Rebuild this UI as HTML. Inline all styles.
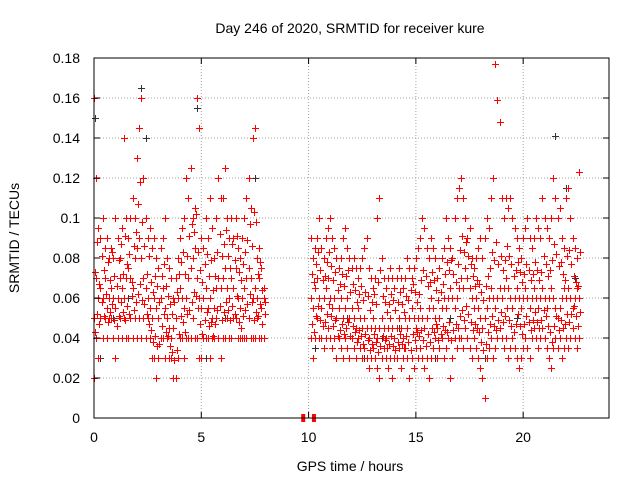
<!DOCTYPE html>
<html><head><meta charset="utf-8"><style>
body{margin:0;background:#fff}
svg text{font-family:"Liberation Sans",sans-serif;font-size:14px;fill:#000}
</style></head><body>
<svg id="chart" width="640" height="480" xmlns="http://www.w3.org/2000/svg">
<rect width="640" height="480" fill="#fff"/>
<text x="350" y="33" text-anchor="middle">Day 246 of 2020, SRMTID for receiver kure</text>
<text x="0" y="0" transform="translate(19,238) rotate(-90)" text-anchor="middle">SRMTID / TECUs</text>
<text x="350" y="471" text-anchor="middle">GPS time / hours</text>
<g id="grid"></g><g id="marks"></g><g id="axes"></g>
</svg>
<script>
const xTicks=[0,5,10,15,20];
const yTicks=[0,0.02,0.04,0.06,0.08,0.1,0.12,0.14,0.16,0.18];
const yTickLabels=["0","0.02","0.04","0.06","0.08","0.1","0.12","0.14","0.16","0.18"];
const segAStart=0.0, segBStart=10.1, sampleStep=0.1, extraOffset=0.05;
const segALow=[.02,.04,.03,.05,.04,.05,.04,.05,.05,.04,.03,.04,.05,.04,.05,.04,.04,.05,.04,.05,.04,.05,.04,.05,.04,.05,.04,.03,.03,.02,.03,.04,.04,.03,.04,.03,.03,.02,.02,.03,.04,.04,.03,.04,.04,.04,.05,.04,.04,.03,.03,.04,.04,.04,.03,.04,.04,.05,.04,.03,.04,.04,.05,.04,.04,.05,.05,.04,.04,.04,.04,.04,.05,.04,.04,.04,.05,.04,.04,.04];
const segAMid=[.05,.07,.06,.065,.06,.07,.055,.06,.065,.06,.055,.06,.07,.065,.06,.07,.075,.07,.065,.08,.085,.09,.08,.07,.065,.06,.055,.05,.06,.055,.05,.06,.065,.055,.05,.045,.04,.045,.05,.06,.065,.06,.055,.06,.07,.075,.08,.085,.07,.06,.055,.06,.065,.055,.06,.05,.055,.065,.07,.065,.07,.075,.065,.06,.07,.065,.075,.06,.055,.06,.065,.07,.075,.07,.06,.065,.06,.07,.055,.06];
const segAHigh=[.16,.12,.095,.09,.1,.085,.09,.08,.085,.08,.1,.09,.08,.095,.14,.1,.09,.1,.11,.1,.13,.145,.16,.12,.1,.09,.095,.085,.09,.08,.075,.085,.09,.1,.08,.075,.07,.06,.07,.08,.09,.095,.1,.12,.11,.125,.1,.105,.16,.145,.09,.085,.1,.09,.11,.095,.08,.1,.12,.11,.11,.125,.1,.09,.1,.09,.1,.085,.08,.09,.1,.11,.12,.105,.14,.145,.08,.085,.075,.065];
const segAExtraUpper=[.073,.088,.067,.081,.074,.062,.078,.069,.083,.071,.066,.079,.087,.072,.091,.077,.082,.068,.086,.093,.107,.118,.098,.086,.072,.081,.068,.063,.071,.066,.058,.071,.077,.066,.061,.057,.052,.058,.063,.072,.078,.083,.072,.081,.091,.097,.093,.102,.083,.074,.068,.077,.082,.071,.079,.064,.071,.083,.092,.081,.087,.094,.081,.075,.087,.079,.091,.073,.069,.077,.083,.089,.097,.086,.103,.098,.072,.078,.064,.058];
const segAExtraLower=[.043,.052,.047,.058,.051,.062,.048,.053,.057,.049,.046,.051,.058,.053,.049,.056,.052,.061,.054,.058,.062,.067,.059,.057,.052,.047,.044,.038,.041,.036,.037,.046,.052,.043,.041,.036,.033,.029,.034,.042,.051,.048,.043,.052,.054,.058,.063,.061,.055,.047,.042,.049,.053,.046,.048,.041,.047,.054,.056,.049,.053,.058,.054,.049,.056,.052,.061,.048,.045,.051,.054,.057,.062,.058,.049,.053,.051,.057,.047,.052];
const segBLow=[.04,.03,.04,.05,.04,.04,.035,.04,.045,.04,.035,.04,.03,.04,.035,.03,.04,.035,.03,.04,.035,.03,.04,.035,.03,.035,.03,.025,.03,.035,.03,.025,.02,.03,.035,.03,.025,.03,.02,.03,.03,.035,.025,.03,.035,.03,.02,.03,.025,.035,.03,.035,.03,.025,.03,.02,.03,.035,.04,.03,.035,.04,.03,.035,.04,.02,.03,.04,.035,.04,.04,.035,.045,.04,.035,.03,.04,.035,.03,.025,.02,.01,.03,.035,.04,.03,.035,.04,.045,.04,.035,.04,.03,.035,.04,.035,.03,.025,.03,.035,.04,.035,.03,.04,.045,.04,.035,.04,.045,.04,.035,.03,.025,.035,.04,.035,.04,.03,.035,.04,.035,.04,.045,.04,.035,.04];
const segBMid=[.06,.055,.065,.07,.06,.055,.06,.065,.07,.06,.055,.06,.05,.055,.06,.05,.055,.06,.05,.055,.05,.045,.055,.05,.045,.05,.045,.04,.045,.05,.045,.04,.045,.05,.045,.04,.045,.05,.045,.04,.045,.05,.045,.04,.05,.045,.05,.055,.05,.045,.05,.055,.05,.045,.05,.055,.06,.055,.05,.045,.05,.055,.06,.055,.06,.065,.06,.055,.06,.065,.07,.065,.075,.07,.065,.06,.055,.06,.055,.05,.045,.05,.055,.06,.065,.06,.055,.06,.065,.06,.065,.07,.065,.06,.055,.06,.065,.06,.055,.06,.065,.06,.055,.06,.065,.06,.055,.06,.065,.06,.055,.06,.065,.06,.055,.05,.055,.06,.065,.06,.065,.06,.055,.06,.065,.06];
const segBHigh=[.09,.08,.085,.09,.1,.085,.08,.09,.095,.1,.09,.085,.08,.075,.08,.09,.095,.085,.08,.075,.08,.075,.07,.075,.08,.085,.09,.075,.07,.065,.07,.1,.11,.08,.07,.065,.07,.075,.07,.065,.07,.075,.07,.065,.07,.08,.075,.07,.075,.08,.085,.09,.1,.095,.085,.08,.09,.085,.08,.07,.075,.08,.085,.1,.09,.085,.08,.1,.11,.115,.12,.11,.1,.09,.095,.08,.075,.08,.085,.09,.08,.09,.1,.095,.11,.12,.177,.159,.148,.11,.1,.11,.105,.11,.1,.095,.09,.085,.08,.09,.095,.1,.09,.085,.09,.1,.095,.09,.11,.1,.095,.09,.1,.12,.11,.1,.105,.09,.085,.11,.115,.1,.09,.085,.08,.123];
const segBExtraUpper=[.072,.068,.077,.083,.074,.069,.071,.078,.083,.076,.069,.073,.064,.067,.072,.066,.071,.074,.063,.067,.064,.058,.062,.066,.059,.063,.061,.054,.058,.062,.057,.068,.074,.061,.058,.053,.057,.062,.059,.054,.058,.063,.057,.053,.061,.059,.064,.067,.063,.058,.062,.069,.074,.071,.066,.068,.073,.069,.064,.059,.063,.067,.072,.078,.074,.079,.072,.068,.077,.084,.091,.083,.088,.081,.077,.071,.066,.069,.067,.063,.059,.066,.071,.075,.083,.079,.088,.077,.081,.074,.079,.086,.081,.077,.071,.074,.078,.073,.068,.072,.077,.074,.069,.072,.078,.074,.069,.073,.081,.077,.071,.074,.079,.087,.082,.076,.078,.072,.069,.081,.084,.077,.071,.068,.066,.083];
const segBExtraLower=[.047,.043,.051,.056,.049,.046,.048,.052,.057,.051,.046,.049,.041,.044,.047,.042,.045,.048,.041,.046,.043,.038,.044,.041,.037,.042,.039,.034,.037,.042,.038,.033,.036,.041,.039,.035,.037,.041,.036,.034,.038,.042,.037,.035,.041,.038,.034,.042,.039,.043,.041,.044,.039,.036,.042,.038,.045,.043,.047,.039,.042,.046,.044,.043,.048,.039,.044,.047,.045,.051,.054,.049,.056,.052,.048,.044,.047,.045,.043,.038,.034,.037,.043,.047,.051,.046,.044,.049,.053,.048,.051,.055,.049,.046,.043,.047,.052,.046,.042,.047,.051,.048,.044,.049,.053,.048,.045,.049,.054,.051,.046,.043,.038,.046,.051,.044,.049,.045,.047,.052,.048,.052,.056,.051,.046,.053];
const blackTimes=[0.05,0.3,0.9,1.6,2.2,2.4,3.3,4.1,4.8,5.2,6.1,6.9,7.5,10.3,11.0,11.8,12.6,13.4,14.2,15.3,15.9,16.6,17.4,18.2,19.0,19.7,20.4,21.5,22.0,22.4];
const blackValues=[.15,.03,.05,.06,.165,.14,.03,.04,.155,.03,.05,.04,.12,.035,.1,.05,.03,.04,.045,.1,.03,.05,.04,.03,.06,.05,.04,.141,.115,.07];
const missingTimes=[9.75,10.25];

const NS="http://www.w3.org/2000/svg";
const X0=94,X1=609,Y0=418,Y1=58,XMAX=24,YMAX=0.18;
function xs(t){return X0+t*(X1-X0)/XMAX;}
function ys(v){return Y0-v*(Y0-Y1)/YMAX;}
function mk(tag,attrs,parent){const e=document.createElementNS(NS,tag);for(const k in attrs)e.setAttribute(k,attrs[k]);parent.appendChild(e);return e;}
const grid=document.getElementById('grid'),marks=document.getElementById('marks'),axes=document.getElementById('axes');
yTicks.forEach((v,i)=>{
  if(i>0&&i<yTicks.length-1){const g=mk('line',{x1:X0,x2:X1,y1:ys(v),y2:ys(v),stroke:'#a0a0a0','stroke-dasharray':'1,2'},grid);
  
  }
  mk('line',{x1:X0,x2:X0+6,y1:ys(v),y2:ys(v),stroke:'#000'},axes);
  mk('line',{x1:X1,x2:X1-6,y1:ys(v),y2:ys(v),stroke:'#000'},axes);
  const t=mk('text',{x:80,y:ys(v)+5,'text-anchor':'end'},axes);t.textContent=yTickLabels[i];
  
  
});
xTicks.forEach(v=>{
  if(v>0){const g=mk('line',{x1:xs(v),x2:xs(v),y1:Y0,y2:Y1,stroke:'#a0a0a0','stroke-dasharray':'1,2'},grid);
  
  }
  mk('line',{x1:xs(v),x2:xs(v),y1:Y0,y2:Y0-6,stroke:'#000'},axes);
  mk('line',{x1:xs(v),x2:xs(v),y1:Y1,y2:Y1+6,stroke:'#000'},axes);
  const t=mk('text',{x:xs(v),y:442,'text-anchor':'middle'},axes);t.textContent=String(v);
  
  
});
const border=mk('rect',{x:X0,y:Y1,width:X1-X0,height:Y0-Y1,fill:'none',stroke:'#000'},axes);


function plus(t,v,color){
  const x=Math.round(xs(t))+0.5,y=Math.round(ys(v))+0.5;
  const p=mk('path',{d:`M${x-3.5} ${y}H${x+3.5}M${x} ${y-3.5}V${y+3.5}`,stroke:color,'stroke-width':1,fill:'none'},marks);
  
  
}
blackTimes.forEach((t,i)=>plus(t,blackValues[i],'#333'));
[segALow,segAMid,segAHigh].forEach(arr=>arr.forEach((v,i)=>plus(segAStart+i*sampleStep,v,'#f00')));
[segAExtraUpper,segAExtraLower].forEach(arr=>arr.forEach((v,i)=>plus(segAStart+extraOffset+i*sampleStep,v,'#f00')));
[segBLow,segBMid,segBHigh].forEach(arr=>arr.forEach((v,i)=>plus(segBStart+i*sampleStep,v,'#f00')));
[segBExtraUpper,segBExtraLower].forEach(arr=>arr.forEach((v,i)=>plus(segBStart+extraOffset+i*sampleStep,v,'#f00')));
missingTimes.forEach(t=>{
  const r=mk('rect',{x:xs(t)-2,y:Y0-4,width:4,height:8,fill:'#f00'},marks);
  
  
});
</script>
</body></html>
